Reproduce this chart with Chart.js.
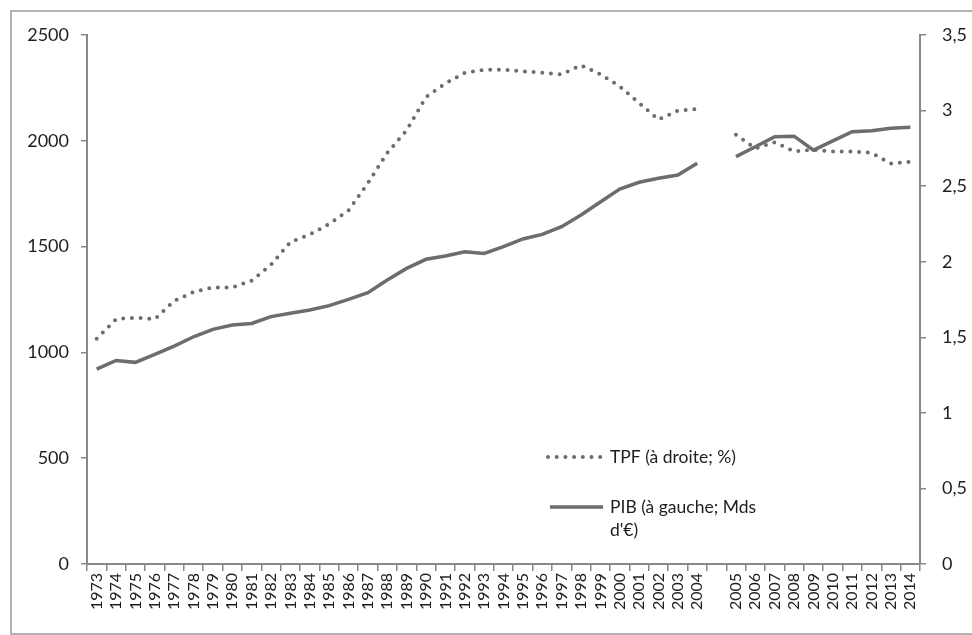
<!DOCTYPE html>
<html>
<head>
<meta charset="utf-8">
<script src="https://cdn.jsdelivr.net/npm/chart.js@4.4.1/dist/chart.umd.min.js"></script>
<style>
    html, body { margin: 0; padding: 0; background: #fff; }
    #wrap { width: 972px; height: 635px; }
</style>
</head>
<body>
<div id="wrap"><canvas id="chart" width="972" height="635"></canvas></div>
<script>
// Years, with one empty slot between 2004 and 2005 (break in the series)
const years = ['1973', '1974', '1975', '1976', '1977', '1978', '1979', '1980', '1981', '1982',
    '1983', '1984', '1985', '1986', '1987', '1988', '1989', '1990', '1991', '1992',
    '1993', '1994', '1995', '1996', '1997', '1998', '1999', '2000', '2001', '2002',
    '2003', '2004', '', '2005', '2006', '2007', '2008', '2009', '2010', '2011',
    '2012', '2013', '2014'];

// PIB, Mds d'€ (left axis)
const pib = [921, 962, 953, 991, 1030, 1074, 1109, 1129, 1137, 1169,
    1185, 1200, 1221, 1251, 1282, 1342, 1397, 1440, 1456, 1476,
    1468, 1500, 1536, 1558, 1594, 1649, 1711, 1772, 1804, 1823,
    1838, 1894, null, 1925, 1972, 2019, 2022, 1956, 2000, 2043,
    2048, 2059, 2064];

// TPF, % (right axis)
const tpf = [1.49, 1.62, 1.63, 1.62, 1.74, 1.80, 1.83, 1.83, 1.875, 1.98,
    2.13, 2.18, 2.25, 2.34, 2.52, 2.72, 2.87, 3.09, 3.18, 3.25,
    3.27, 3.27, 3.26, 3.25, 3.24, 3.30, 3.24, 3.16, 3.05, 2.94,
    3.00, 3.01, null, 2.84, 2.75, 2.79, 2.73, 2.74, 2.73, 2.73,
    2.72, 2.65, 2.66];

const leftTicks = [0, 500, 1000, 1500, 2000, 2500];
const leftTickLabels = ['0', '500', '1000', '1500', '2000', '2500'];
const rightTicks = [0, 0.5, 1, 1.5, 2, 2.5, 3, 3.5];
const rightTickLabels = ['0', '0,5', '1', '1,5', '2', '2,5', '3', '3,5'];

const legendLabels = [['TPF (à droite; %)'], ['PIB (à gauche; Mds', "d'€)"]];

const lineColor = '#6d6d6d';
const axisColor = '#888888';
const font = 'Lato';

// white background + outer frame
const framePlugin = {
    id: 'frame',
    beforeDraw(chart) {
        const ctx = chart.ctx;
        ctx.save();
        ctx.fillStyle = '#fff';
        ctx.fillRect(0, 0, chart.width, chart.height);
        ctx.strokeStyle = '#9a9a9a';
        ctx.lineWidth = 1.5;
        ctx.strokeRect(11, 11, chart.width + 10, chart.height - 12);
        ctx.restore();
    }
};

// legend drawn inside the plot, same place as the original
const innerLegend = {
    id: 'innerLegend',
    afterDraw(chart) {
        const ctx = chart.ctx;
        const rows = [
            { ds: chart.data.datasets[0], x: 548, y: 457 },
            { ds: chart.data.datasets[1], x: 550, y: 507 }
        ];
        ctx.save();
        rows.forEach((row, i) => {
            ctx.beginPath();
            ctx.strokeStyle = row.ds.borderColor;
            ctx.lineWidth = row.ds.borderWidth;
            ctx.lineCap = row.ds.borderCapStyle || 'butt';
            ctx.setLineDash(row.ds.borderDash || []);
            ctx.moveTo(row.x, row.y);
            ctx.lineTo(row.x + 53, row.y);
            ctx.stroke();
            ctx.setLineDash([]);
            ctx.fillStyle = '#1e1e1e';
            ctx.font = '17.5px ' + font;
            ctx.textBaseline = 'middle';
            ctx.textAlign = 'left';
            legendLabels[i].forEach((txt, j) => {
                ctx.fillText(txt, 610, row.y + j * 23);
            });
        });
        ctx.restore();
    }
};

document.addEventListener('DOMContentLoaded', function () {
    const ctx = document.getElementById('chart').getContext('2d');
    new Chart(ctx, {
        type: 'line',
        data: {
            labels: years,
            datasets: [{
                label: legendLabels[0].join(' '),
                data: tpf,
                yAxisID: 'yRight',
                borderColor: lineColor,
                borderWidth: 4,
                borderDash: [0, 8.7],
                borderCapStyle: 'round',
                pointRadius: 0,
                tension: 0,
                spanGaps: false,
                fill: false
            }, {
                label: legendLabels[1].join(' '),
                data: pib,
                yAxisID: 'yLeft',
                borderColor: lineColor,
                borderWidth: 3.5,
                borderCapStyle: 'butt',
                pointRadius: 0,
                tension: 0,
                spanGaps: false,
                fill: false
            }]
        },
        options: {
            responsive: false,
            animation: false,
            layout: {
                padding: { top: 35, left: 0, right: 0, bottom: 0 }
            },
            plugins: {
                legend: { display: false },
                tooltip: { enabled: false }
            },
            scales: {
                x: {
                    type: 'category',
                    offset: true,
                    grid: {
                        offset: true,
                        drawOnChartArea: false,
                        drawTicks: true,
                        tickLength: 7,
                        color: axisColor,
                        lineWidth: 1.5
                    },
                    border: { color: axisColor, width: 2 },
                    ticks: {
                        autoSkip: false,
                        maxRotation: 90,
                        minRotation: 90,
                        padding: 2,
                        color: '#1e1e1e',
                        font: { family: font, size: 16 }
                    },
                    afterFit(scale) { scale.height = 71; }
                },
                yLeft: {
                    position: 'left',
                    min: 0,
                    max: 2500,
                    afterBuildTicks(scale) {
                        scale.ticks = leftTicks.map(v => ({ value: v }));
                    },
                    grid: {
                        drawOnChartArea: false,
                        drawTicks: true,
                        tickLength: 6,
                        color: axisColor,
                        lineWidth: 1.5
                    },
                    border: { color: axisColor, width: 2 },
                    ticks: {
                        padding: 12,
                        color: '#1e1e1e',
                        font: { family: font, size: 18 },
                        callback: (value, index) => leftTickLabels[index]
                    },
                    afterFit(scale) { scale.width = 87; }
                },
                yRight: {
                    position: 'right',
                    min: 0,
                    max: 3.5,
                    afterBuildTicks(scale) {
                        scale.ticks = rightTicks.map(v => ({ value: v }));
                    },
                    grid: {
                        drawOnChartArea: false,
                        drawTicks: true,
                        tickLength: 6,
                        color: axisColor,
                        lineWidth: 1.5
                    },
                    border: { color: axisColor, width: 2 },
                    ticks: {
                        padding: 16,
                        color: '#1e1e1e',
                        font: { family: font, size: 18 },
                        callback: (value, index) => rightTickLabels[index]
                    },
                    afterFit(scale) { scale.width = 52; }
                }
            }
        },
        plugins: [framePlugin, innerLegend]
    });
});
</script>
</body>
</html>
